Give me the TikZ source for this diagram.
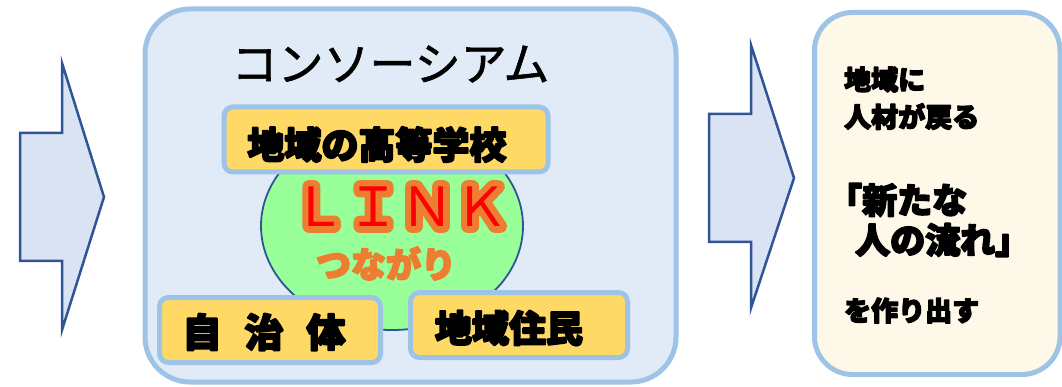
\documentclass[tikz,border=0pt]{standalone}
\usepackage{fontspec}
\usetikzlibrary{shapes.geometric}
\newfontfamily\jpR{Noto Sans CJK JP}
\newfontfamily\jpT{Noto Sans CJK JP}[FakeBold=1.2]
\newfontfamily\jpB{Noto Sans CJK JP}[BoldFeatures={FakeBold=5}]
\newfontfamily\jpO{Noto Sans CJK JP}[FakeBold=24]
\definecolor{boxline}{HTML}{9DC3E6}
\definecolor{bigfill}{HTML}{E0EBF7}
\definecolor{gold}{HTML}{FFD966}
\definecolor{lgreen}{HTML}{99FF99}
\definecolor{arrfill}{HTML}{DAE3F3}
\definecolor{navy}{HTML}{2F5597}
\definecolor{cream}{HTML}{FEF8E8}
\definecolor{orng}{HTML}{ED7D31}
\tikzset{
  arrowshape/.style={draw=navy, fill=arrfill, line width=2.5pt, line join=miter},
  bigbox/.style={draw=boxline, fill=bigfill, line width=5pt, rounded corners=45pt},
  goldbox/.style={draw=boxline, fill=gold, line width=5pt, rounded corners=9pt, inner sep=0pt},
  creambox/.style={draw=boxline, fill=cream, line width=5pt, rounded corners=38pt},
  heavy/.style={font=\jpB\bfseries, text=black, inner sep=0pt, line join=round},
  rtext/.style={font=\jpB\bfseries\fontsize{27pt}{27pt}\selectfont, anchor=west, inner sep=0pt, line join=round},
}
\begin{document}
\begin{tikzpicture}[x=1pt,y=-1pt]
\useasboundingbox (0,0) rectangle (1062,387);
% arrows
\draw[arrowshape] (20,133) -- (62,133) -- (62,63) -- (104,197) -- (62,330) -- (62,261) -- (20,261) -- cycle;
\draw[arrowshape] (709,114) -- (751,114) -- (751,45) -- (794,178) -- (751,308) -- (751,242) -- (709,242) -- cycle;
% consortium box
\node[bigbox, minimum width=531pt, minimum height=373pt] (cons) at (410.5,195.5) {};
\node[font=\jpT\fontsize{46pt}{46pt}\selectfont, inner sep=0pt] (title) at (390.5,64) {コンソーシアム};
% ellipse
\node[ellipse, draw=navy, fill=lgreen, line width=1.8pt, minimum width=262pt, minimum height=208pt] (link) at (392,226) {};
% boxes
\node[goldbox, minimum width=324pt, minimum height=65pt] (school) at (386,139.5) {};
\node[heavy, font=\jpB\bfseries\fontsize{37pt}{37pt}\selectfont] (schoolt) at (377,144.5) {地域の高等学校};
\node[goldbox, minimum width=221pt, minimum height=65pt] (gov) at (270,330) {};
\node[heavy, font=\jpB\bfseries\fontsize{39pt}{39pt}\selectfont] (govt) at (264,332) {自\hspace{23pt}治\hspace{23pt}体};
\node[goldbox, minimum width=217pt, minimum height=65pt] (res) at (519,325) {};
\node[heavy, font=\jpB\bfseries\fontsize{37pt}{37pt}\selectfont] (rest) at (509,328) {地域住民};
% LINK
\node[font=\jpO\fontsize{54pt}{54pt}\selectfont, text=orng, inner sep=0pt, line join=round] (linkO) at (400.5,206.5) {ＬＩＮＫ};
\node[font=\jpR\fontsize{54pt}{54pt}\selectfont, text=red, inner sep=0pt] (linkR) at (400.5,206.5) {ＬＩＮＫ};
\node[font=\jpB\bfseries\fontsize{35pt}{35pt}\selectfont, text=orng, inner sep=0pt, line join=round] (tsunagari) at (386,263.5) {つながり};
% right box
\node[creambox, minimum width=245.5pt, minimum height=362pt] (result) at (937.25,193.5) {};
\node[rtext] (r1) at (844,79.5) {地域に};
\node[rtext] (r2) at (844,116.5) {人材が戻る};
\node[rtext, font=\jpB\bfseries\fontsize{35pt}{35pt}\selectfont] (r3) at (827,200) {「新たな};
\node[rtext, font=\jpB\bfseries\fontsize{35pt}{35pt}\selectfont] (r4) at (855,240) {人の流れ」};
\node[rtext] (r5) at (844,310.5) {を作り出す};
\end{tikzpicture}
\end{document}
